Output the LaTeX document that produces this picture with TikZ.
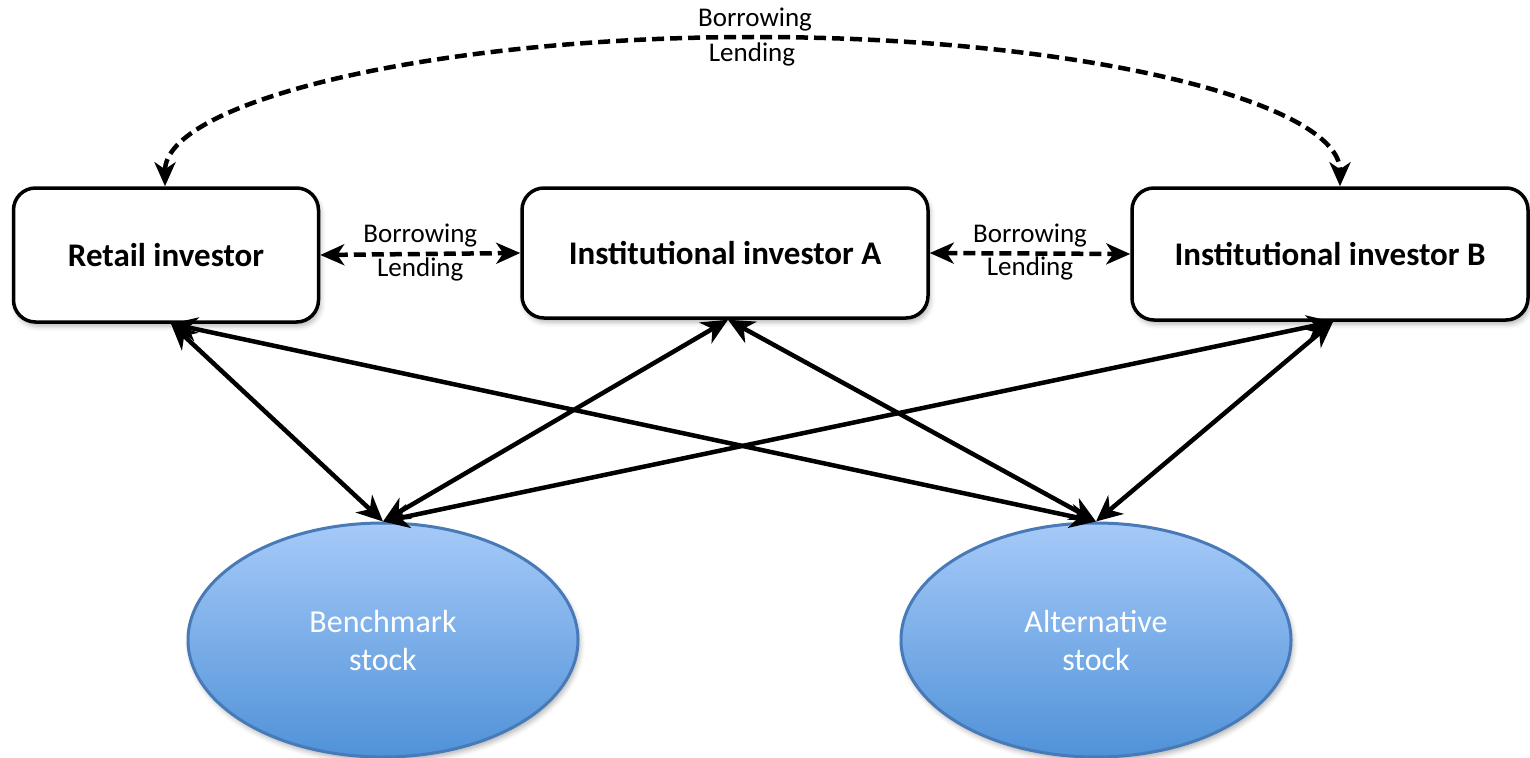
\documentclass[tikz,border=0pt]{standalone}
\usepackage{fontspec}
\setmainfont{Carlito}
\usetikzlibrary{arrows.meta,shapes.geometric,shadows.blur,calc}

\definecolor{stocktop}{RGB}{166,202,248}
\definecolor{stockbot}{RGB}{80,146,216}
\definecolor{stockedge}{RGB}{72,122,184}

\tikzset{
  bigtip/.tip={Stealth[length=26pt,width=24pt,inset=8pt]},
  dashtip/.tip={Stealth[length=24pt,width=21pt,inset=7pt]}
}

\begin{document}
\begin{tikzpicture}[x=1pt,y=-1pt,
  softshadow/.style={blur shadow={shadow xshift=2pt,shadow yshift=-4pt,
      shadow blur radius=5pt,shadow opacity=30}},
  investor/.style={draw=black,line width=3.5pt,rounded corners=22pt,fill=white,
      softshadow,inner sep=0pt,font=\fontsize{33}{36}\selectfont\bfseries},
  stock/.style={ellipse,draw=stockedge,line width=3pt,top color=stocktop,
      bottom color=stockbot,softshadow,inner sep=0pt,align=center,
      minimum width=390pt,minimum height=234pt,text=white,
      font=\fontsize{32}{38}\selectfont},
  trade/.style={line width=4.5pt,{bigtip}-{bigtip}},
  loan/.style={line width=4.5pt,dash pattern=on 12pt off 6pt,{dashtip}-{dashtip}},
  lab/.style={font=\fontsize{27}{30}\selectfont,inner sep=0pt}]

\useasboundingbox (0,0) rectangle (1530,757);

% market participants
\node[investor,minimum width=305pt,minimum height=134pt] (ret) at (166,255) {Retail investor};
\node[investor,minimum width=406pt,minimum height=130pt] (ia) at (725,253) {Institutional investor A};
\node[investor,minimum width=396pt,minimum height=132pt] (ib) at (1330,254) {Institutional investor B};

% traded assets
\node[stock] (bench) at (383,640) {Benchmark\\stock};
\node[stock] (alt) at (1096,640) {Alternative\\stock};

% trading links
\draw[trade] ([xshift=5pt]ret.south) -- (bench.north);
\draw[trade] ([xshift=5pt]ret.south) -- (alt.north);
\draw[trade] ([xshift=3pt]ia.south) -- (bench.north);
\draw[trade] ([xshift=3pt]ia.south) -- (alt.north);
\draw[trade] ([xshift=3pt]ib.south) -- (bench.north);
\draw[trade] ([xshift=3pt]ib.south) -- (alt.north);

% securities lending between neighbours
\draw[loan] (ret.east) -- (ia.west)
  node[lab,midway,yshift=18pt] {Borrowing}
  node[lab,midway,yshift=-15pt] {Lending};
\draw[loan] (ia.east) -- (ib.west)
  node[lab,midway,yshift=18pt] {Borrowing}
  node[lab,midway,yshift=-15pt] {Lending};

% securities lending between the outer parties
\coordinate (peak) at (755,37);
\draw[loan] ([xshift=-1pt]ret.north) .. controls +(0,-84) and +(-326,0) .. (peak)
  .. controls +(326,0) and +(0,-84) .. ([xshift=10pt]ib.north);
\node[lab] (upb) at (755,20) {Borrowing};
\node[lab] (upl) at (752,54) {Lending};

\end{tikzpicture}
\end{document}
